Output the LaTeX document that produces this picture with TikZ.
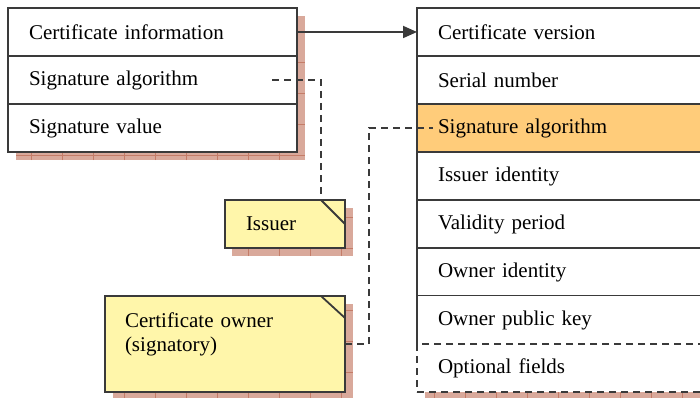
\documentclass[tikz,border=0pt]{standalone}
\usepackage{fontspec}
\setmainfont{Liberation Serif}
\usetikzlibrary{calc}
\usetikzlibrary{arrows.meta}

\definecolor{framegray}{HTML}{3A3A3A}
\definecolor{fieldorange}{HTML}{FFCC7A}
\definecolor{noteyellow}{HTML}{FFF6AA}
\definecolor{shadowpink}{HTML}{D9A99B}
\definecolor{shadowline}{HTML}{C47C68}

\begin{document}
\begin{tikzpicture}[x=1pt, y=-1pt]
            \tikzstyle{field} = [draw=framegray, line width=1.8pt, fill=white, anchor=north west, minimum height=48pt, inner xsep=21pt, inner ysep=0pt, outer sep=0pt, align=left, font=\fontsize{21}{24}\selectfont]
            \tikzstyle{note} = [field, fill=noteyellow]
            \tikzstyle{link} = [draw=framegray, line width=1.8pt, dash pattern=on 7pt off 5pt]
            \useasboundingbox (0,0) rectangle (700,398);
            % shadows
            \foreach \xa/\ya/\xb/\yb in {16/16/305/160, 425/16/720/400, 232/208/353/256, 113/304/353/400} {
                \begin{scope}
                    \clip (\xa,\ya) rectangle (\xb,\yb);
                    \fill[shadowpink] (\xa,\ya) rectangle (\xb,\yb);
                    \draw[shadowline, line width=0.6pt, step=31pt] (\xa,\ya) grid (\xb,\yb);
                \end{scope}
            }
            % certificate
            \node[field, text width=247pt] (certinfo) at (8,8) {Certificate information};
            \node[field, text width=247pt] (sigalgo) at (certinfo.south west) {Signature algorithm};
            \node[field, text width=247pt] (sigvalue) at (sigalgo.south west) {Signature value};
            % certificate information
            \node[field, text width=258pt] (version) at (417,8) {Certificate version};
            \node[field, text width=258pt] (serial) at (version.south west) {Serial number};
            \node[field, text width=258pt, fill=fieldorange] (infoalgo) at (serial.south west) {Signature algorithm};
            \node[field, text width=258pt] (issuerid) at (infoalgo.south west) {Issuer identity};
            \node[field, text width=258pt] (validity) at (issuerid.south west) {Validity period};
            \node[field, text width=258pt] (ownerid) at (validity.south west) {Owner identity};
            \node[field, text width=258pt, draw=none] (pubkey) at (ownerid.south west) {Owner public key};
            \draw[framegray, line width=1.8pt] (ownerid.south west) -- (pubkey.south west);
            \node[field, text width=258pt, dash pattern=on 7pt off 5pt] (optional) at (pubkey.south west) {Optional fields};
            % notes
            \node[note, text width=78pt] (issuer) at (225,200) {Issuer};
            \draw[framegray, line width=1.8pt] ($(issuer.north east)+(-24,0)$) -- ($(issuer.north east)+(0,24)$);
            \node[note, text width=200pt, minimum height=96pt, inner xsep=20pt] (owner) at (105,296) {Certificate owner\\(signatory)\\~};
            \draw[framegray, line width=1.8pt] ($(owner.north east)+(-24,0)$) -- ($(owner.north east)+(0,22)$);
            % connectors
            \coordinate (sigstart) at (272,80);
            \coordinate (issuerfold) at ($(issuer.north east)+(-24,0)$);
            \coordinate (sigend) at (433,128);
            \draw[framegray, line width=1.8pt, -{Triangle[length=14pt,width=12pt]}] (certinfo.east) -- (version.west);
            \draw[link] (sigstart) -| (issuerfold);
            \draw[link] (owner.east) -- ++(24,0) |- (sigend);
\end{tikzpicture}
\end{document}
